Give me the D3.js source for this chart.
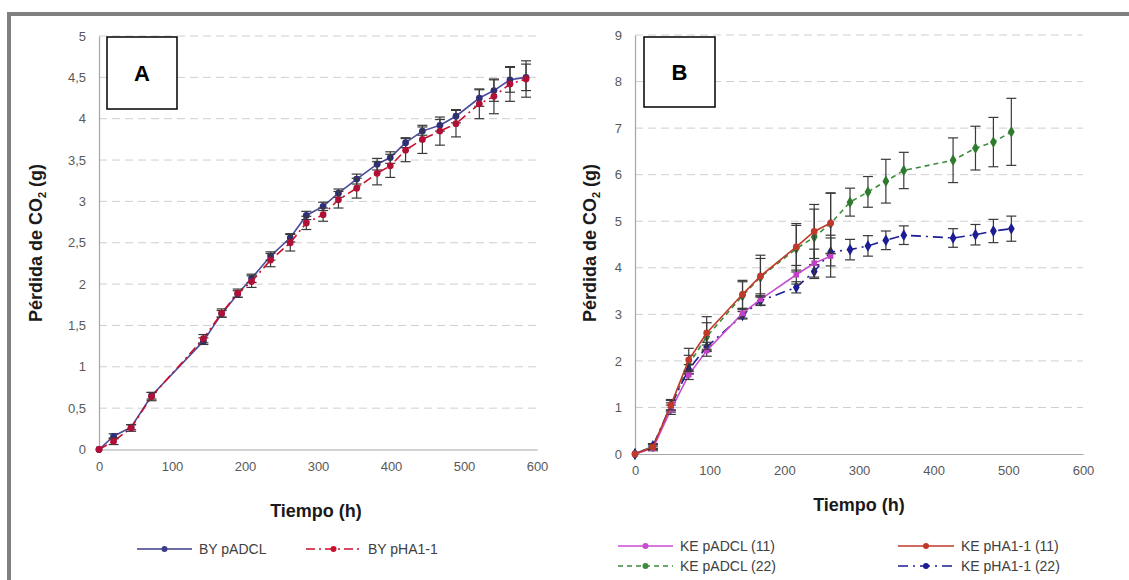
<!DOCTYPE html>
<html>
<head>
<meta charset="utf-8">
<script src="https://cdn.jsdelivr.net/npm/d3@7"></script>
<style>
  body { margin: 0; background: #ffffff; }
  svg text { font-family: "Liberation Sans", Arial, sans-serif; }
</style>
</head>
<body>
<div id="chart"></div>
<script>
const w = 1129;
const h = 580;

// Panel A data (BY strain)
const timesA = [0, 20, 44, 72, 143, 168, 190, 209, 235, 262, 284, 307, 328, 353, 381, 399, 420, 443, 467, 489, 521, 541, 563, 585];
const byADCL = [0, 0.16, 0.27, 0.65, 1.31, 1.64, 1.88, 2.07, 2.34, 2.56, 2.83, 2.94, 3.10, 3.27, 3.45, 3.53, 3.71, 3.85, 3.92, 4.03, 4.25, 4.34, 4.47, 4.50];
const byADCLErr = [0, 0.03, 0.03, 0.04, 0.04, 0.04, 0.04, 0.05, 0.05, 0.05, 0.05, 0.05, 0.05, 0.06, 0.07, 0.07, 0.06, 0.05, 0.07, 0.08, 0.1, 0.13, 0.15, 0.16];
const byHA1 = [0, 0.10, 0.26, 0.64, 1.34, 1.65, 1.89, 2.03, 2.29, 2.50, 2.74, 2.84, 3.02, 3.16, 3.34, 3.43, 3.62, 3.75, 3.85, 3.94, 4.18, 4.27, 4.42, 4.48];
const byHA1Err = [0, 0.04, 0.04, 0.05, 0.05, 0.05, 0.05, 0.07, 0.08, 0.10, 0.08, 0.08, 0.10, 0.12, 0.14, 0.14, 0.14, 0.17, 0.17, 0.16, 0.18, 0.21, 0.21, 0.22];

// Panel B data (KE strain)
const timesB = [0, 24, 48, 72, 96, 144, 168, 216, 240, 262, 288, 312, 336, 360, 426, 456, 480, 504];
const keADCL11 = [0, 0.12, 0.95, 1.70, 2.22, 3.02, 3.32, 3.85, 4.10, 4.25];
const keADCL11Err = [0, 0.05, 0.1, 0.1, 0.12, 0.1, 0.12, 0.2, 0.3, 0.45];
const keHA111 = [0, 0.15, 1.05, 2.02, 2.60, 3.43, 3.82, 4.45, 4.78, 4.96];
const keHA111Err = [0, 0.05, 0.1, 0.25, 0.35, 0.3, 0.45, 0.5, 0.58, 0.65];
const keADCL22 = [0, 0.17, 1.00, 1.92, 2.52, 3.40, 3.80, 4.41, 4.66, 4.95, 5.41, 5.63, 5.86, 6.09, 6.31, 6.57, 6.70, 6.92];
const keADCL22Err = [0, 0.05, 0.1, 0.2, 0.3, 0.3, 0.4, 0.5, 0.6, 0.65, 0.3, 0.33, 0.47, 0.39, 0.48, 0.47, 0.53, 0.72];
const keHA122 = [0, 0.17, 1.05, 1.82, 2.30, 2.98, 3.29, 3.58, 3.92, 4.34, 4.39, 4.47, 4.59, 4.70, 4.64, 4.71, 4.79, 4.84];
const keHA122Err = [0, 0.05, 0.12, 0.1, 0.1, 0.08, 0.1, 0.12, 0.15, 0.3, 0.22, 0.22, 0.2, 0.2, 0.2, 0.22, 0.25, 0.27];

const xTicks = [0, 100, 200, 300, 400, 500, 600];
const yTicksA = [0, 0.5, 1, 1.5, 2, 2.5, 3, 3.5, 4, 4.5, 5];
const yTicksB = [0, 1, 2, 3, 4, 5, 6, 7, 8, 9];

let svg = d3.select("div#chart").append("svg")
    .attr("width", w).attr("height", h)
    .style("background-color", "#ffffff");

// frame
svg.append("rect").attr("x", 7).attr("y", 12).attr("width", w - 7).attr("height", 4).attr("fill", "#7f7f7f");
svg.append("rect").attr("x", 7).attr("y", 12).attr("width", 4).attr("height", h - 12).attr("fill", "#7f7f7f");

const xA = d3.scaleLinear().domain([0, 600]).range([99, 537]);
const yA = d3.scaleLinear().domain([0, 5]).range([449.5, 36]);
const xB = d3.scaleLinear().domain([0, 600]).range([635, 1083]);
const yB = d3.scaleLinear().domain([0, 9]).range([454, 35]);

const drawFrame = (x, y, yTicks, fmt) => {
    let g = svg.append("g");
    // gridlines
    g.selectAll("line.grid")
        .data(yTicks.filter(d => d > 0))
        .join("line")
        .attr("x1", x.range()[0]).attr("x2", x.range()[1])
        .attr("y1", d => y(d)).attr("y2", d => y(d))
        .style("stroke", "#cfcfcf")
        .style("stroke-dasharray", "8,5")
        .style("stroke-width", 1);

    let xAxis = g.append("g")
        .attr("transform", "translate(0," + y(0) + ")")
        .call(d3.axisBottom(x).tickValues(xTicks).tickSize(0).tickPadding(12));
    let yAxis = g.append("g")
        .attr("transform", "translate(" + x(0) + ",0)")
        .call(d3.axisLeft(y).tickValues(yTicks).tickSize(0).tickPadding(13).tickFormat(fmt));
    [xAxis, yAxis].forEach(a => {
        a.select(".domain").style("stroke", "#a6a6a6").style("stroke-width", 1.2);
        a.selectAll("text").style("font-size", "13px").style("fill", "#595959");
    });
};

const drawSeries = (x, y, times, vals, errs, color, markColor, dash, symbol, size) => {
    let pts = vals.map((v, i) => ({t: times[i], v: v, e: errs[i]}));
    let line = d3.line().x(d => x(d.t)).y(d => y(d.v));
    svg.append("path")
        .datum(pts)
        .attr("d", line)
        .style("fill", "none")
        .style("stroke", color)
        .style("stroke-width", 1.6)
        .style("stroke-dasharray", dash);

    let bars = svg.append("g").selectAll("g")
        .data(pts.filter(d => d.e > 0))
        .join("g")
        .style("stroke", "#3a3a3a")
        .style("stroke-width", 1.2);
    bars.append("line")
        .attr("x1", d => x(d.t)).attr("x2", d => x(d.t))
        .attr("y1", d => y(d.v - d.e)).attr("y2", d => y(d.v + d.e));
    bars.append("line")
        .attr("x1", d => x(d.t) - 5).attr("x2", d => x(d.t) + 5)
        .attr("y1", d => y(d.v + d.e)).attr("y2", d => y(d.v + d.e));
    bars.append("line")
        .attr("x1", d => x(d.t) - 5).attr("x2", d => x(d.t) + 5)
        .attr("y1", d => y(d.v - d.e)).attr("y2", d => y(d.v - d.e));

    svg.append("g").selectAll("path")
        .data(pts)
        .join("path")
        .attr("transform", d => "translate(" + x(d.t) + "," + y(d.v) + ")")
        .attr("d", d3.symbol().type(symbol).size(size))
        .style("fill", markColor);
};

const yTitle = (cx, cy) => {
    let t = svg.append("text")
        .attr("transform", "translate(" + cx + "," + cy + ") rotate(-90)")
        .attr("text-anchor", "middle")
        .style("font-size", "18px").style("font-weight", "bold").style("fill", "#1a1a1a");
    t.append("tspan").text("Pérdida de CO");
    t.append("tspan").text("2").attr("dy", 4).style("font-size", "11px");
    t.append("tspan").text(" (g)").attr("dy", -4);
};

const xTitle = (cx, cy) => {
    svg.append("text")
        .attr("x", cx).attr("y", cy)
        .attr("text-anchor", "middle")
        .style("font-size", "18px").style("font-weight", "bold").style("fill", "#1a1a1a")
        .text("Tiempo (h)");
};

const panelBox = (x, y, bw, bh, label) => {
    svg.append("rect").attr("x", x).attr("y", y).attr("width", bw).attr("height", bh)
        .style("fill", "#ffffff").style("stroke", "#000000").style("stroke-width", 1.5);
    svg.append("text").attr("x", x + bw / 2).attr("y", y + bh / 2 + 8)
        .attr("text-anchor", "middle")
        .style("font-size", "22px").style("font-weight", "bold")
        .text(label);
};

const legendItem = (x1, x2, y, color, dash, label) => {
    svg.append("line").attr("x1", x1).attr("x2", x2).attr("y1", y).attr("y2", y)
        .style("stroke", color).style("stroke-width", 1.6).style("stroke-dasharray", dash);
    svg.append("circle").attr("cx", (x1 + x2) / 2).attr("cy", y).attr("r", 3).style("fill", color);
    svg.append("text").attr("x", x2 + 7).attr("y", y + 5)
        .style("font-size", "14px").style("fill", "#404040")
        .text(label);
};

const fmtComma = d => String(d).replace(".", ",");

// Panel A
drawFrame(xA, yA, yTicksA, fmtComma);
drawSeries(xA, yA, timesA, byADCL, byADCLErr, "#4b4b9b", "#2e2e7e", null, d3.symbolCircle, 36);
drawSeries(xA, yA, timesA, byHA1, byHA1Err, "#c8102e", "#b01035", "9,4,2,4", d3.symbolCircle, 36);
panelBox(107, 37, 70, 72, "A");
yTitle(42, 243);
xTitle(316, 517);
legendItem(137, 192, 549, "#3d3d8a", null, "BY pADCL");
legendItem(306, 361, 549, "#c8102e", "9,4,2,4", "BY pHA1-1");

// Panel B
drawFrame(xB, yB, yTicksB, d => d);
drawSeries(xB, yB, timesB, keADCL22, keADCL22Err, "#3c8c3c", "#2f7a2f", "5,4", d3.symbolDiamond, 40);
drawSeries(xB, yB, timesB, keHA122, keHA122Err, "#1c1c94", "#1c1c94", "10,5,2,5", d3.symbolDiamond, 40);
drawSeries(xB, yB, timesB, keADCL11, keADCL11Err, "#c84bd0", "#c040c8", null, d3.symbolSquare, 30);
drawSeries(xB, yB, timesB, keHA111, keHA111Err, "#c0392b", "#c0392b", null, d3.symbolCircle, 36);
panelBox(644, 37, 71, 70, "B");
yTitle(596, 243);
xTitle(859, 511);
legendItem(618, 673, 546, "#c84bd0", null, "KE pADCL (11)");
legendItem(898, 954, 546, "#c0392b", null, "KE pHA1-1 (11)");
legendItem(618, 673, 566, "#3c8c3c", "5,4", "KE pADCL (22)");
legendItem(898, 954, 566, "#1c1c94", "10,5,2,5", "KE pHA1-1 (22)");
</script>
</body>
</html>
